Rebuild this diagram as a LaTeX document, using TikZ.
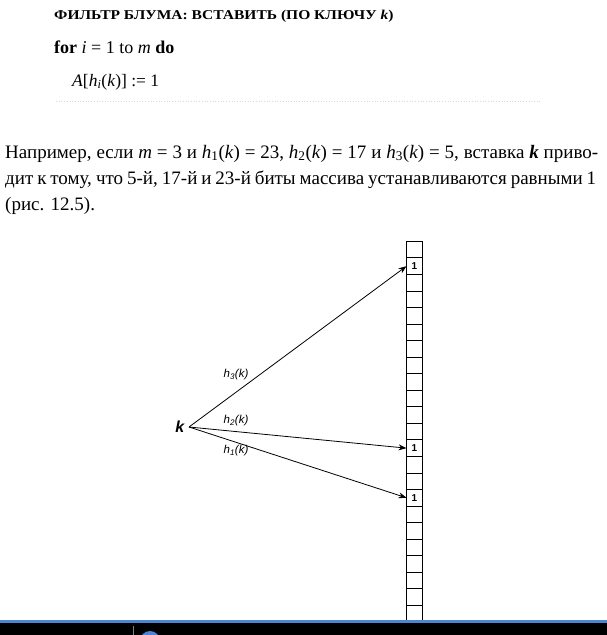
\documentclass[tikz,border=0pt]{standalone}
\usepackage{fontspec}
\setmainfont{Liberation Serif}
\newfontfamily\diagfont{Liberation Sans}
\usetikzlibrary{positioning,calc,arrows.meta}

\definecolor{barblue}{RGB}{74,134,212}

\begin{document}
\begin{tikzpicture}[x=1pt,y=-1pt]
    \tikzset{
        cell/.style={
            draw,
            line width=0.9pt,
            minimum width=16pt,
            minimum height=16.545pt,
            inner sep=0pt,
            outer sep=0pt
        }
    }
    \tikzset{
        hashline/.style={
            -{Stealth[length=8pt,width=6pt]},
            line width=0.8pt
        }
    }
    \tikzset{
        hashlabel/.style={
            font=\diagfont\itshape\fontsize{11.5}{13}\selectfont,
            inner sep=0pt
        }
    }
    \tikzset{
        textline/.style={
            anchor=base west,
            inner sep=0pt,
            font=\fontsize{19}{22}\selectfont
        }
    }

    \useasboundingbox (0,0) rectangle (607,635);

    \node[textline, font=\bfseries\fontsize{13.5}{15}\selectfont] (title) at (54,19.5)
        {\scalebox{1.15}[1]{ФИЛЬТР БЛУМА: ВСТАВИТЬ (ПО КЛЮЧУ \textit{k})}};
    \node[textline, font=\fontsize{18}{20}\selectfont] (loop) at (54,53)
        {\textbf{for} \textit{i} = 1 to \textit{m} \textbf{do}};
    \node[textline, font=\fontsize{17.5}{20}\selectfont] (assign) at (72,86)
        {\textit{A}[\textit{h}\textsubscript{\textit{i}}(\textit{k})] := 1};
    \draw[gray!30, dotted, line width=0.7pt] (56,101) -- (540,101);

    \node[textline] (par1) at (5,158)
        {\makebox[593pt][s]{Например, если \textit{m} = 3 и \textit{h}\textsubscript{1}(\textit{k}) = 23, \textit{h}\textsubscript{2}(\textit{k}) = 17 и \textit{h}\textsubscript{3}(\textit{k}) = 5, вставка \textbf{\textit{k}} приво-}};
    \node[textline] (par2) at (5,184)
        {\makebox[591pt][s]{дит к тому, что 5-й, 17-й и 23-й биты массива устанавливаются равными 1}};
    \node[textline] (par3) at (5,210)
        {(рис. 12.5).};

    \foreach \i in {0,...,22}
        \node[cell] (c\i) at (414.5,249.6+16.545*\i) {};
    \foreach \j in {1,12,15}
        \node[font=\diagfont\bfseries\fontsize{10}{11}\selectfont] at (c\j) {1};

    \node[anchor=east, inner sep=4.5pt, font=\diagfont\bfseries\itshape\fontsize{16}{18}\selectfont] (key) at (189,427) {k};

    \draw[hashline] (key.east) -- (c1.west);
    \draw[hashline] (key.east) -- (c12.west);
    \draw[hashline] (key.east) -- (c15.west);

    \node[hashlabel] (h3) at (236,375) {\textit{h}\textsubscript{3}(\textit{k})};
    \node[hashlabel] (h2) at (236,421) {\textit{h}\textsubscript{2}(\textit{k})};
    \node[hashlabel] (h1) at (236,451) {\textit{h}\textsubscript{1}(\textit{k})};

    \fill[barblue] (0,620) rectangle (607,622.5);
    \fill[black] (0,622.5) rectangle (607,635);
    \draw[gray, line width=1pt] (133,626) -- (133,635);
    \begin{scope}
        \clip (0,622.5) rectangle (607,635);
        \fill[barblue] (150,641) circle (10);
    \end{scope}
\end{tikzpicture}
\end{document}
